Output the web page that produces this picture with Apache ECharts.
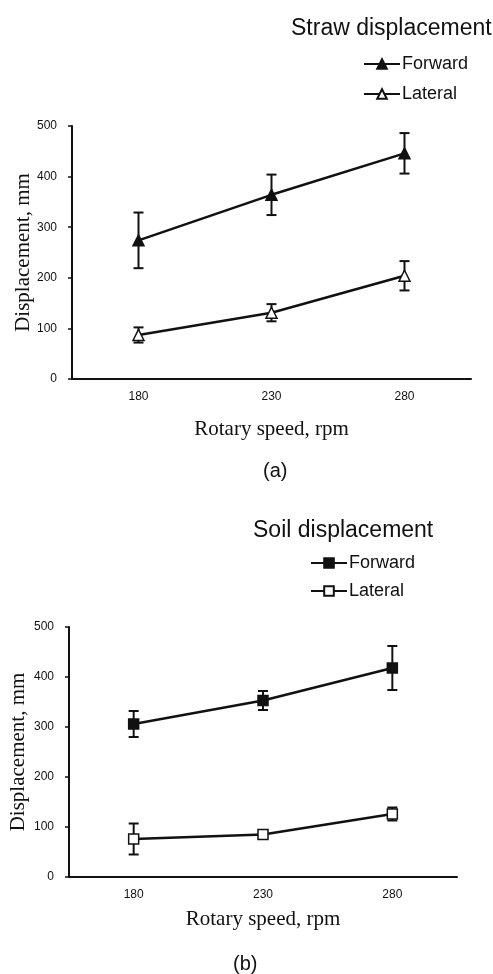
<!DOCTYPE html>
<html>
<head>
<meta charset="utf-8">
<script src="https://cdn.jsdelivr.net/npm/echarts@6/dist/echarts.min.js"></script>
<style>
  html, body { margin: 0; padding: 0; background: #fff; }
  #chart { width: 493px; height: 974px; }
</style>
</head>
<body>
<div id="chart"></div>
<script>
// rotary speeds (rpm)
var speeds = ['180', '230', '280'];
var yTicks = [0, 100, 200, 300, 400, 500];

// (a) straw displacement, mm
var strawForward = [274, 364, 446];
var strawForwardErr = [55, 40, 40];
var strawLateral = [87, 131, 204];
var strawLateralErr = [15, 17, 29];

// (b) soil displacement, mm
var soilForward = [306, 353, 418];
var soilForwardErr = [26, 19, 44];
var soilLateral = [76, 85, 126];
var soilLateralErr = [31, 3, 13];

var sans = 'Liberation Sans, Arial, sans-serif';
var serif = 'Liberation Serif, Times New Roman, serif';

function errData(vals, errs) {
  return vals.map(function (v, i) { return [i, v - errs[i], v + errs[i]]; });
}

function errSeries(name, vals, errs, gi) {
  return {
    name: name,
    type: 'custom',
    xAxisIndex: gi,
    yAxisIndex: gi,
    z: 1,
    silent: true,
    data: errData(vals, errs),
    renderItem: function (params, api) {
      var lo = api.coord([api.value(0), api.value(1)]);
      var hi = api.coord([api.value(0), api.value(2)]);
      var cap = 5;
      var st = { stroke: '#111', lineWidth: 2 };
      return {
        type: 'group',
        children: [
          { type: 'line', shape: { x1: lo[0], y1: lo[1], x2: hi[0], y2: hi[1] }, style: st },
          { type: 'line', shape: { x1: lo[0] - cap, y1: lo[1], x2: lo[0] + cap, y2: lo[1] }, style: st },
          { type: 'line', shape: { x1: hi[0] - cap, y1: hi[1], x2: hi[0] + cap, y2: hi[1] }, style: st }
        ]
      };
    }
  };
}

function lineSeries(name, vals, gi, symbol, fill, size) {
  return {
    name: name,
    type: 'line',
    xAxisIndex: gi,
    yAxisIndex: gi,
    z: 3,
    data: vals,
    symbol: symbol,
    symbolSize: size,
    showAllSymbol: true,
    lineStyle: { color: '#111', width: 2.5 },
    itemStyle: { color: fill, borderColor: '#111', borderWidth: 1.5 }
  };
}

function xAxis(gi) {
  return {
    type: 'category',
    gridIndex: gi,
    data: speeds,
    boundaryGap: true,
    name: 'Rotary speed, rpm',
    nameLocation: 'middle',
    nameMoveOverlap: false,
    nameGap: gi === 0 ? 40 : 32,
    nameTextStyle: { fontFamily: serif, fontSize: 21, color: '#111' },
    axisLine: { lineStyle: { color: '#111', width: 2 } },
    axisTick: { show: false },
    axisLabel: { margin: 12, fontFamily: sans, fontSize: 12, color: '#111' }
  };
}

function yAxis(gi) {
  return {
    type: 'value',
    gridIndex: gi,
    min: yTicks[0],
    max: yTicks[yTicks.length - 1],
    interval: 100,
    name: 'Displacement, mm',
    nameLocation: 'middle',
    nameRotate: 90,
    nameMoveOverlap: false,
    nameGap: gi === 0 ? 38 : 40,
    nameTextStyle: { fontFamily: serif, fontSize: 21, color: '#111' },
    splitLine: { show: false },
    axisLine: { show: true, lineStyle: { color: '#111', width: 2 } },
    axisTick: { show: true, length: 4, lineStyle: { color: '#111', width: 1.5 } },
    axisLabel: { margin: 15, fontFamily: sans, fontSize: 12, color: '#111' }
  };
}

var chart = echarts.init(document.getElementById('chart'));
chart.setOption({
  backgroundColor: '#fff',
  animation: false,
  title: [
    { text: 'Straw displacement', left: 286, top: 12, textStyle: { fontFamily: sans, fontSize: 23, fontWeight: 'normal', color: '#111' } },
    { text: '(a)', left: 258, top: 456, textStyle: { fontFamily: sans, fontSize: 20, fontWeight: 'normal', color: '#111' } },
    { text: 'Soil displacement', left: 248, top: 514, textStyle: { fontFamily: sans, fontSize: 23, fontWeight: 'normal', color: '#111' } },
    { text: '(b)', left: 228, top: 949, textStyle: { fontFamily: sans, fontSize: 20, fontWeight: 'normal', color: '#111' } }
  ],
  legend: [
    {
      orient: 'vertical', left: 363, top: 55, padding: 0, itemWidth: 36, itemHeight: 12, itemGap: 12,
      data: ['Straw Forward', 'Straw Lateral'],
      formatter: function (n) { return n.split(' ')[1]; },
      textStyle: { fontFamily: sans, fontSize: 18, color: '#111', padding: [0, 0, 0, -3] }
    },
    {
      orient: 'vertical', left: 310, top: 554, padding: 0, itemWidth: 36, itemHeight: 12, itemGap: 10,
      data: ['Soil Forward', 'Soil Lateral'],
      formatter: function (n) { return n.split(' ')[1]; },
      textStyle: { fontFamily: sans, fontSize: 18, color: '#111', padding: [0, 0, 0, -3] }
    }
  ],
  grid: [
    { left: 72, right: 22, top: 126, height: 253, outerBoundsMode: 'none' },
    { left: 69, right: 36, top: 627, height: 250, outerBoundsMode: 'none' }
  ],
  xAxis: [xAxis(0), xAxis(1)],
  yAxis: [yAxis(0), yAxis(1)],
  series: [
    errSeries('Straw Forward err', strawForward, strawForwardErr, 0),
    errSeries('Straw Lateral err', strawLateral, strawLateralErr, 0),
    lineSeries('Straw Forward', strawForward, 0, 'triangle', '#111', 11),
    lineSeries('Straw Lateral', strawLateral, 0, 'triangle', '#fff', 11),
    errSeries('Soil Forward err', soilForward, soilForwardErr, 1),
    errSeries('Soil Lateral err', soilLateral, soilLateralErr, 1),
    lineSeries('Soil Forward', soilForward, 1, 'rect', '#111', 10),
    lineSeries('Soil Lateral', soilLateral, 1, 'rect', '#fff', 10)
  ]
});
</script>
</body>
</html>
